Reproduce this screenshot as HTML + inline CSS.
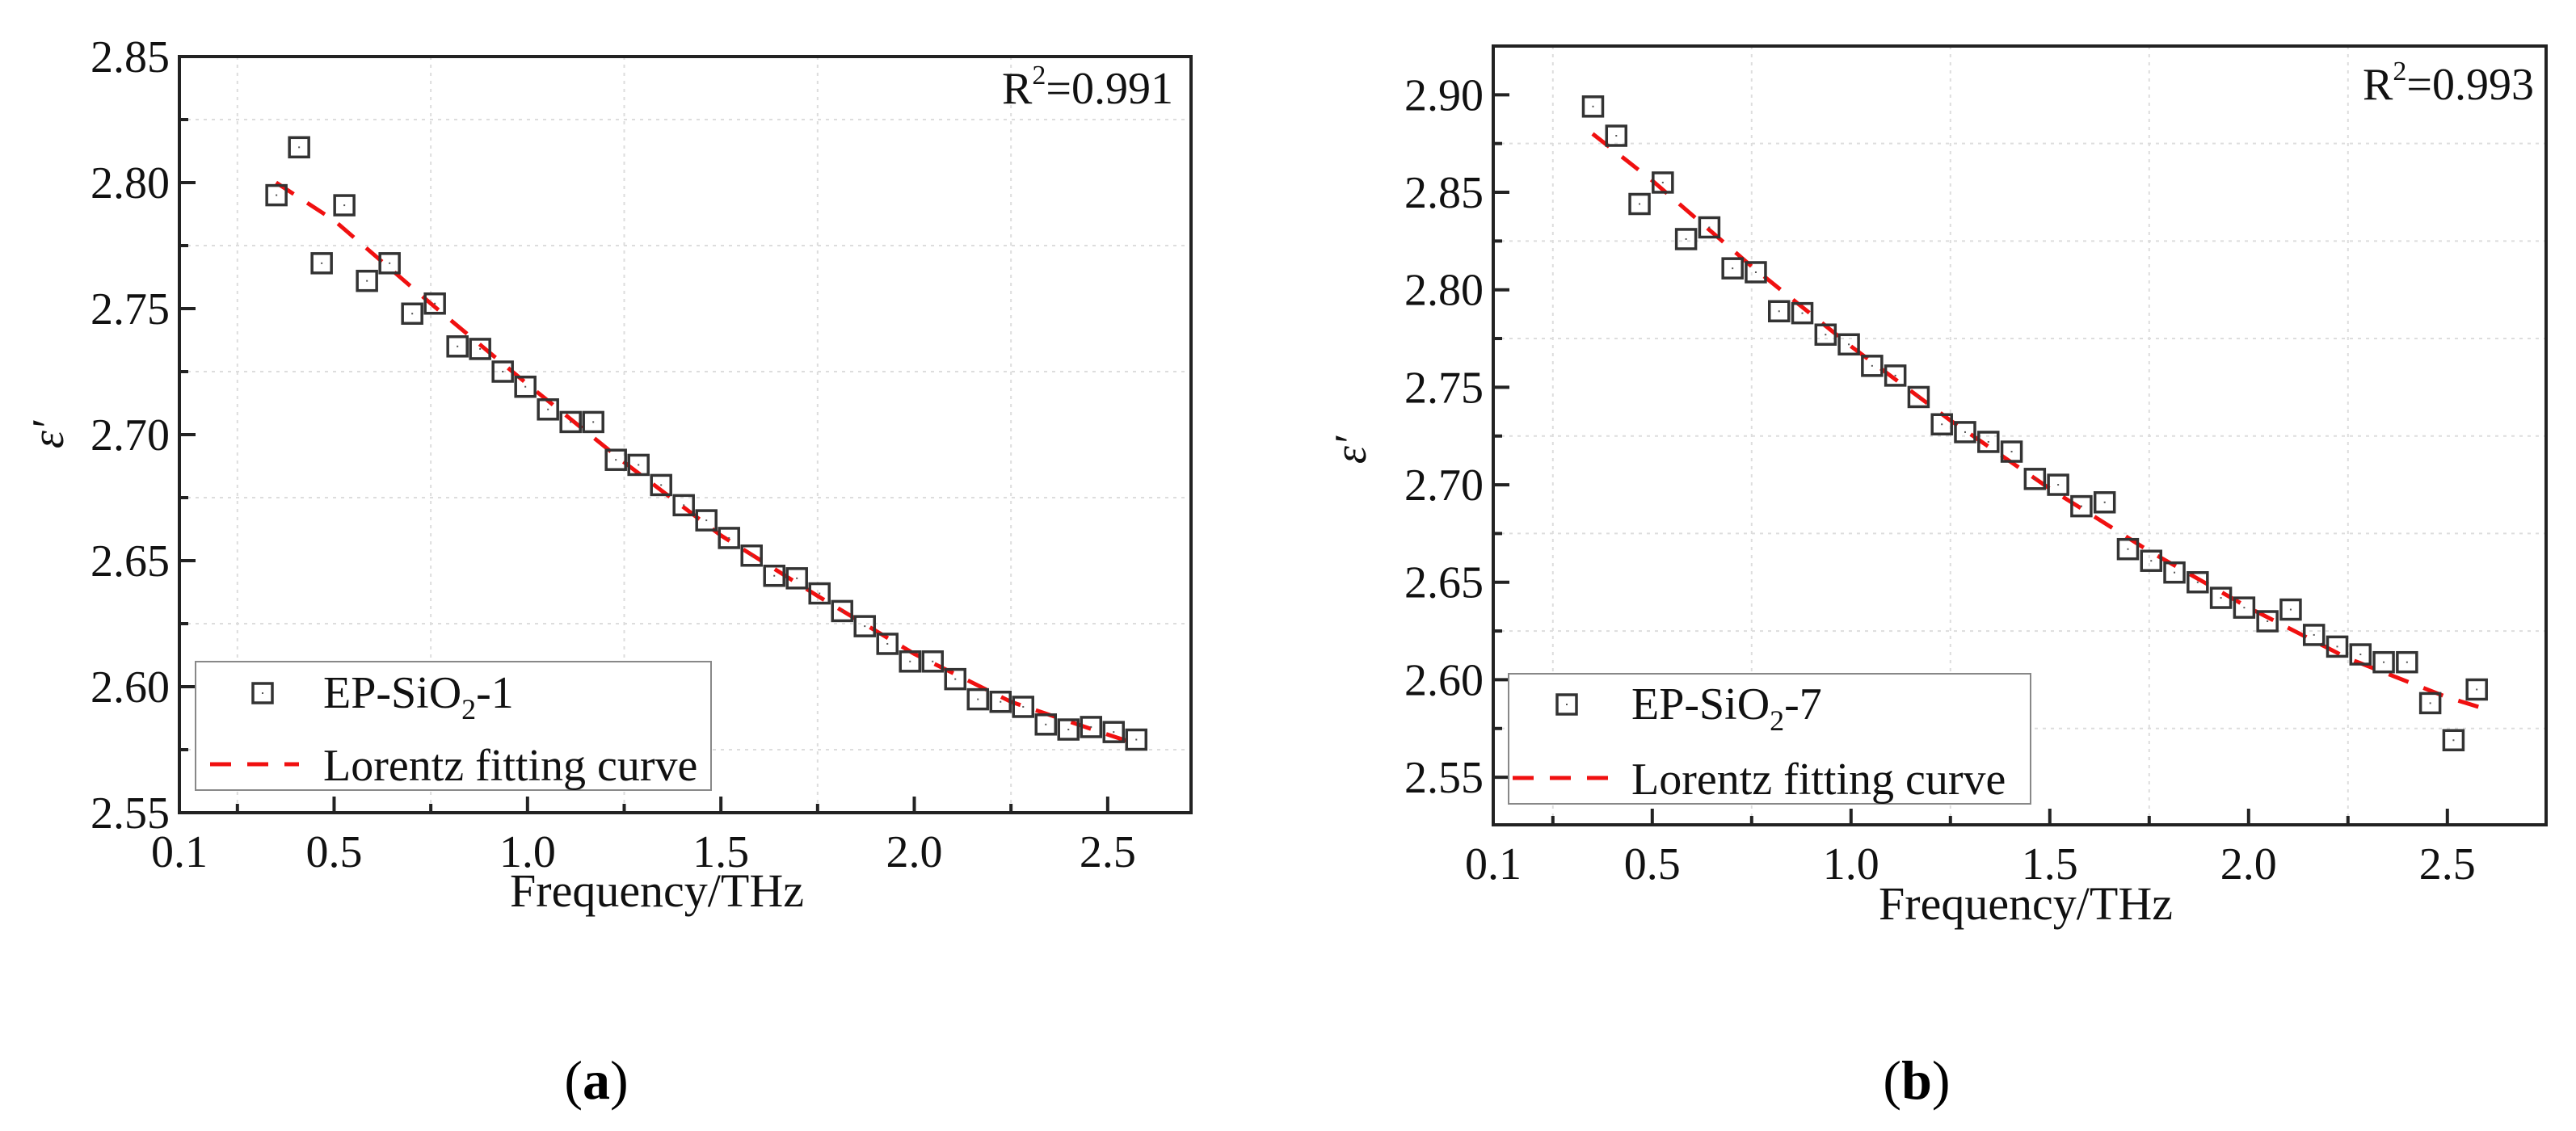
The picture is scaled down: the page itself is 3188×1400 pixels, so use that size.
<!DOCTYPE html>
<html><head><meta charset="utf-8">
<style>
html,body{margin:0;padding:0;background:#fff;}
svg{display:block;font-family:"Liberation Serif",serif;}
</style></head>
<body>
<svg id="fig" width="3188" height="1400" viewBox="0 0 3188 1400" xmlns="http://www.w3.org/2000/svg">
<text x="738" y="1360" font-size="68" text-anchor="middle">(<tspan font-weight="bold">a</tspan>)</text>
<text x="2372" y="1360" font-size="68" text-anchor="middle">(<tspan font-weight="bold">b</tspan>)</text>
</svg>
<script>
const freqStart = 0.351;
const freqStep = 0.0585;
const xTicksMajor = [0.1, 0.5, 1.0, 1.5, 2.0, 2.5];
const xTickLabels = ["0.1", "0.5", "1.0", "1.5", "2.0", "2.5"];
const xTicksMinor = [0.25, 0.75, 1.25, 1.75, 2.25];
const yTicksA = [2.55, 2.60, 2.65, 2.70, 2.75, 2.80, 2.85];
const yTickLabelsA = ["2.55", "2.60", "2.65", "2.70", "2.75", "2.80", "2.85"];
const yTicksB = [2.55, 2.60, 2.65, 2.70, 2.75, 2.80, 2.85, 2.90];
const yTickLabelsB = ["2.55", "2.60", "2.65", "2.70", "2.75", "2.80", "2.85", "2.90"];
const seriesA = [2.795, 2.814, 2.768, 2.791, 2.761, 2.768, 2.748, 2.752, 2.735, 2.734, 2.725, 2.719, 2.710, 2.705, 2.705, 2.690, 2.688, 2.680, 2.672, 2.666, 2.659, 2.652, 2.644, 2.643, 2.637, 2.630, 2.624, 2.617, 2.610, 2.610, 2.603, 2.595, 2.594, 2.592, 2.585, 2.583, 2.584, 2.582, 2.579];
const seriesB = [2.894, 2.879, 2.844, 2.855, 2.826, 2.832, 2.811, 2.809, 2.789, 2.788, 2.777, 2.772, 2.761, 2.756, 2.745, 2.731, 2.727, 2.722, 2.717, 2.703, 2.700, 2.689, 2.691, 2.667, 2.661, 2.655, 2.650, 2.642, 2.637, 2.630, 2.636, 2.623, 2.617, 2.613, 2.609, 2.609, 2.588, 2.569, 2.595];
const fitXA = [0.35, 0.5, 0.75, 1.0, 1.25, 1.5, 1.75, 2.0, 2.25, 2.5, 2.58];
const fitYA = [2.800, 2.785, 2.752, 2.720, 2.689, 2.660, 2.636, 2.613, 2.594, 2.581, 2.577];
const fitXB = [0.35, 0.5, 0.75, 1.0, 1.25, 1.5, 1.75, 2.0, 2.25, 2.5, 2.58];
const fitYB = [2.880, 2.856, 2.812, 2.771, 2.733, 2.698, 2.666, 2.637, 2.611, 2.591, 2.586];

const NS = "http://www.w3.org/2000/svg";
const svg = document.getElementById('fig');
function mk(tag, attrs, parent) {
  const e = document.createElementNS(NS, tag);
  for (const k in attrs) e.setAttribute(k, attrs[k]);
  (parent || svg).appendChild(e);
  return e;
}

function drawChart(cfg) {
  const g = mk('g', {});
  
  
  const X = v => cfg.l + (v - cfg.x0) / (cfg.x1 - cfg.x0) * (cfg.r - cfg.l);
  const Y = v => cfg.b - (v - cfg.y0) / (cfg.y1 - cfg.y0) * (cfg.b - cfg.t);
  // grid
  const grid = mk('g', {stroke: '#ddd', 'stroke-width': 2, 'stroke-dasharray': '4 6'}, g);
  
  
  xTicksMinor.forEach(v => mk('line', {x1: X(v), x2: X(v), y1: cfg.t, y2: cfg.b}, grid));
  for (let i = 0; i < cfg.yt.length - 1; i++) {
    const v = (cfg.yt[i] + cfg.yt[i + 1]) / 2;
    mk('line', {x1: cfg.l, x2: cfg.r, y1: Y(v), y2: Y(v)}, grid);
  }
  // ticks
  const ticks = mk('g', {stroke: '#222', 'stroke-width': 4}, g);
  
  
  xTicksMajor.forEach(v => mk('line', {x1: X(v), x2: X(v), y1: cfg.b, y2: cfg.b - 20}, ticks));
  xTicksMinor.forEach(v => mk('line', {x1: X(v), x2: X(v), y1: cfg.b, y2: cfg.b - 11}, ticks));
  cfg.yt.forEach(v => mk('line', {x1: cfg.l, x2: cfg.l + 20, y1: Y(v), y2: Y(v)}, ticks));
  for (let i = 0; i < cfg.yt.length - 1; i++) {
    const v = (cfg.yt[i] + cfg.yt[i + 1]) / 2;
    mk('line', {x1: cfg.l, x2: cfg.l + 11, y1: Y(v), y2: Y(v)}, ticks);
  }
  // tick labels
  xTicksMajor.forEach((v, i) => {
    const t = mk('text', {x: X(v), y: cfg.b + 67, 'font-size': 56, 'text-anchor': 'middle', fill: '#111'}, g);
    
    
    t.textContent = xTickLabels[i];
  });
  cfg.yt.forEach((v, i) => {
    const t = mk('text', {x: cfg.l - 12, y: Y(v) + 19, 'font-size': 56, 'text-anchor': 'end', fill: '#111'}, g);
    
    
    t.textContent = cfg.ytl[i];
  });
  // fit line
  const pts = cfg.fx.map((v, i) => X(v) + ',' + Y(cfg.fy[i])).join(' ');
  const fit = mk('polyline', {points: pts, fill: 'none', stroke: '#f01010', 'stroke-width': 5, 'stroke-dasharray': '26 20'}, g);
  
  
  // markers
  cfg.data.forEach((v, i) => {
    const cx = X(freqStart + i * freqStep), cy = Y(v);
    const m = mk('rect', {x: cx - 12, y: cy - 12, width: 24, height: 24, fill: 'none', stroke: '#333', 'stroke-width': 3.5}, g);
    
    
    mk('rect', {x: cx - 1, y: cy - 1, width: 2, height: 2, fill: '#555'}, g);
  });
  // frame
  const fr = mk('rect', {x: cfg.l, y: cfg.t, width: cfg.r - cfg.l, height: cfg.b - cfg.t, fill: 'none', stroke: '#222', 'stroke-width': 4}, g);
  
  
  // R2
  const r2 = mk('text', {x: cfg.r2x, y: cfg.r2y, 'font-size': 56, 'text-anchor': 'end', fill: '#111'}, g);
  
  
  r2.innerHTML = 'R<tspan font-size="34" dy="-24">2</tspan><tspan dy="24">=' + cfg.r2 + '</tspan>';
  // axis titles
  const xt = mk('text', {x: cfg.xtx, y: cfg.xty, 'font-size': 58, 'text-anchor': 'middle', fill: '#111'}, g);
  
  
  xt.textContent = 'Frequency/THz';
  const yt = mk('text', {x: 0, y: 0, 'font-size': 56, 'font-style': 'italic', 'text-anchor': 'middle', fill: '#111', transform: 'translate(' + cfg.ytx + ',' + cfg.yty + ') rotate(-90)'}, g);
  
  
  yt.textContent = 'ε′';
  // legend
  const lg = mk('g', {}, g);
  
  
  const L = cfg.leg;
  mk('rect', {x: L.x, y: L.y, width: L.w, height: L.h, fill: '#fff', stroke: '#888', 'stroke-width': 2}, lg);
  const ls = mk('rect', {x: L.sx - 12, y: L.sy - 12, width: 24, height: 24, fill: 'none', stroke: '#333', 'stroke-width': 3.5}, lg);
  
  
  mk('rect', {x: L.sx - 1, y: L.sy - 1, width: 2, height: 2, fill: '#555'}, lg);
  const t1 = mk('text', {x: L.tx, y: L.t1y, 'font-size': 56, fill: '#111'}, lg);
  
  
  t1.innerHTML = 'EP-SiO<tspan font-size="36" dy="14">2</tspan><tspan dy="-14">' + cfg.suffix + '</tspan>';
  const ll = mk('line', {x1: L.lx1, x2: L.lx2, y1: L.ly, y2: L.ly, stroke: '#f01010', 'stroke-width': 5, 'stroke-dasharray': '26 20'}, lg);
  
  
  const t2 = mk('text', {x: L.tx, y: L.t2y, 'font-size': 56, fill: '#111'}, lg);
  
  
  t2.textContent = 'Lorentz fitting curve';
}

drawChart({name: 'chart-a', l: 222, r: 1474, t: 70, b: 1006, x0: 0.1, x1: 2.7155, y0: 2.55, y1: 2.85,
  yt: yTicksA, ytl: yTickLabelsA, data: seriesA, fx: fitXA, fy: fitYA, r2: '0.991', r2x: 1452, r2y: 128,
  xtx: 813, xty: 1122, ytx: 78, yty: 538, suffix: '-1',
  leg: {x: 242, y: 819, w: 638, h: 159, sx: 325, sy: 858, tx: 400, t1y: 876, lx1: 260, lx2: 370, ly: 946, t2y: 966}});
drawChart({name: 'chart-b', l: 1848, r: 3151, t: 57, b: 1021, x0: 0.1, x1: 2.7484, y0: 2.5256, y1: 2.925,
  yt: yTicksB, ytl: yTickLabelsB, data: seriesB, fx: fitXB, fy: fitYB, r2: '0.993', r2x: 3136, r2y: 123,
  xtx: 2507, xty: 1138, ytx: 1690, yty: 557, suffix: '-7',
  leg: {x: 1867, y: 834, w: 646, h: 161, sx: 1939, sy: 872, tx: 2019, t1y: 890, lx1: 1872, lx2: 1990, ly: 963, t2y: 983}});
</script>
</body></html>
